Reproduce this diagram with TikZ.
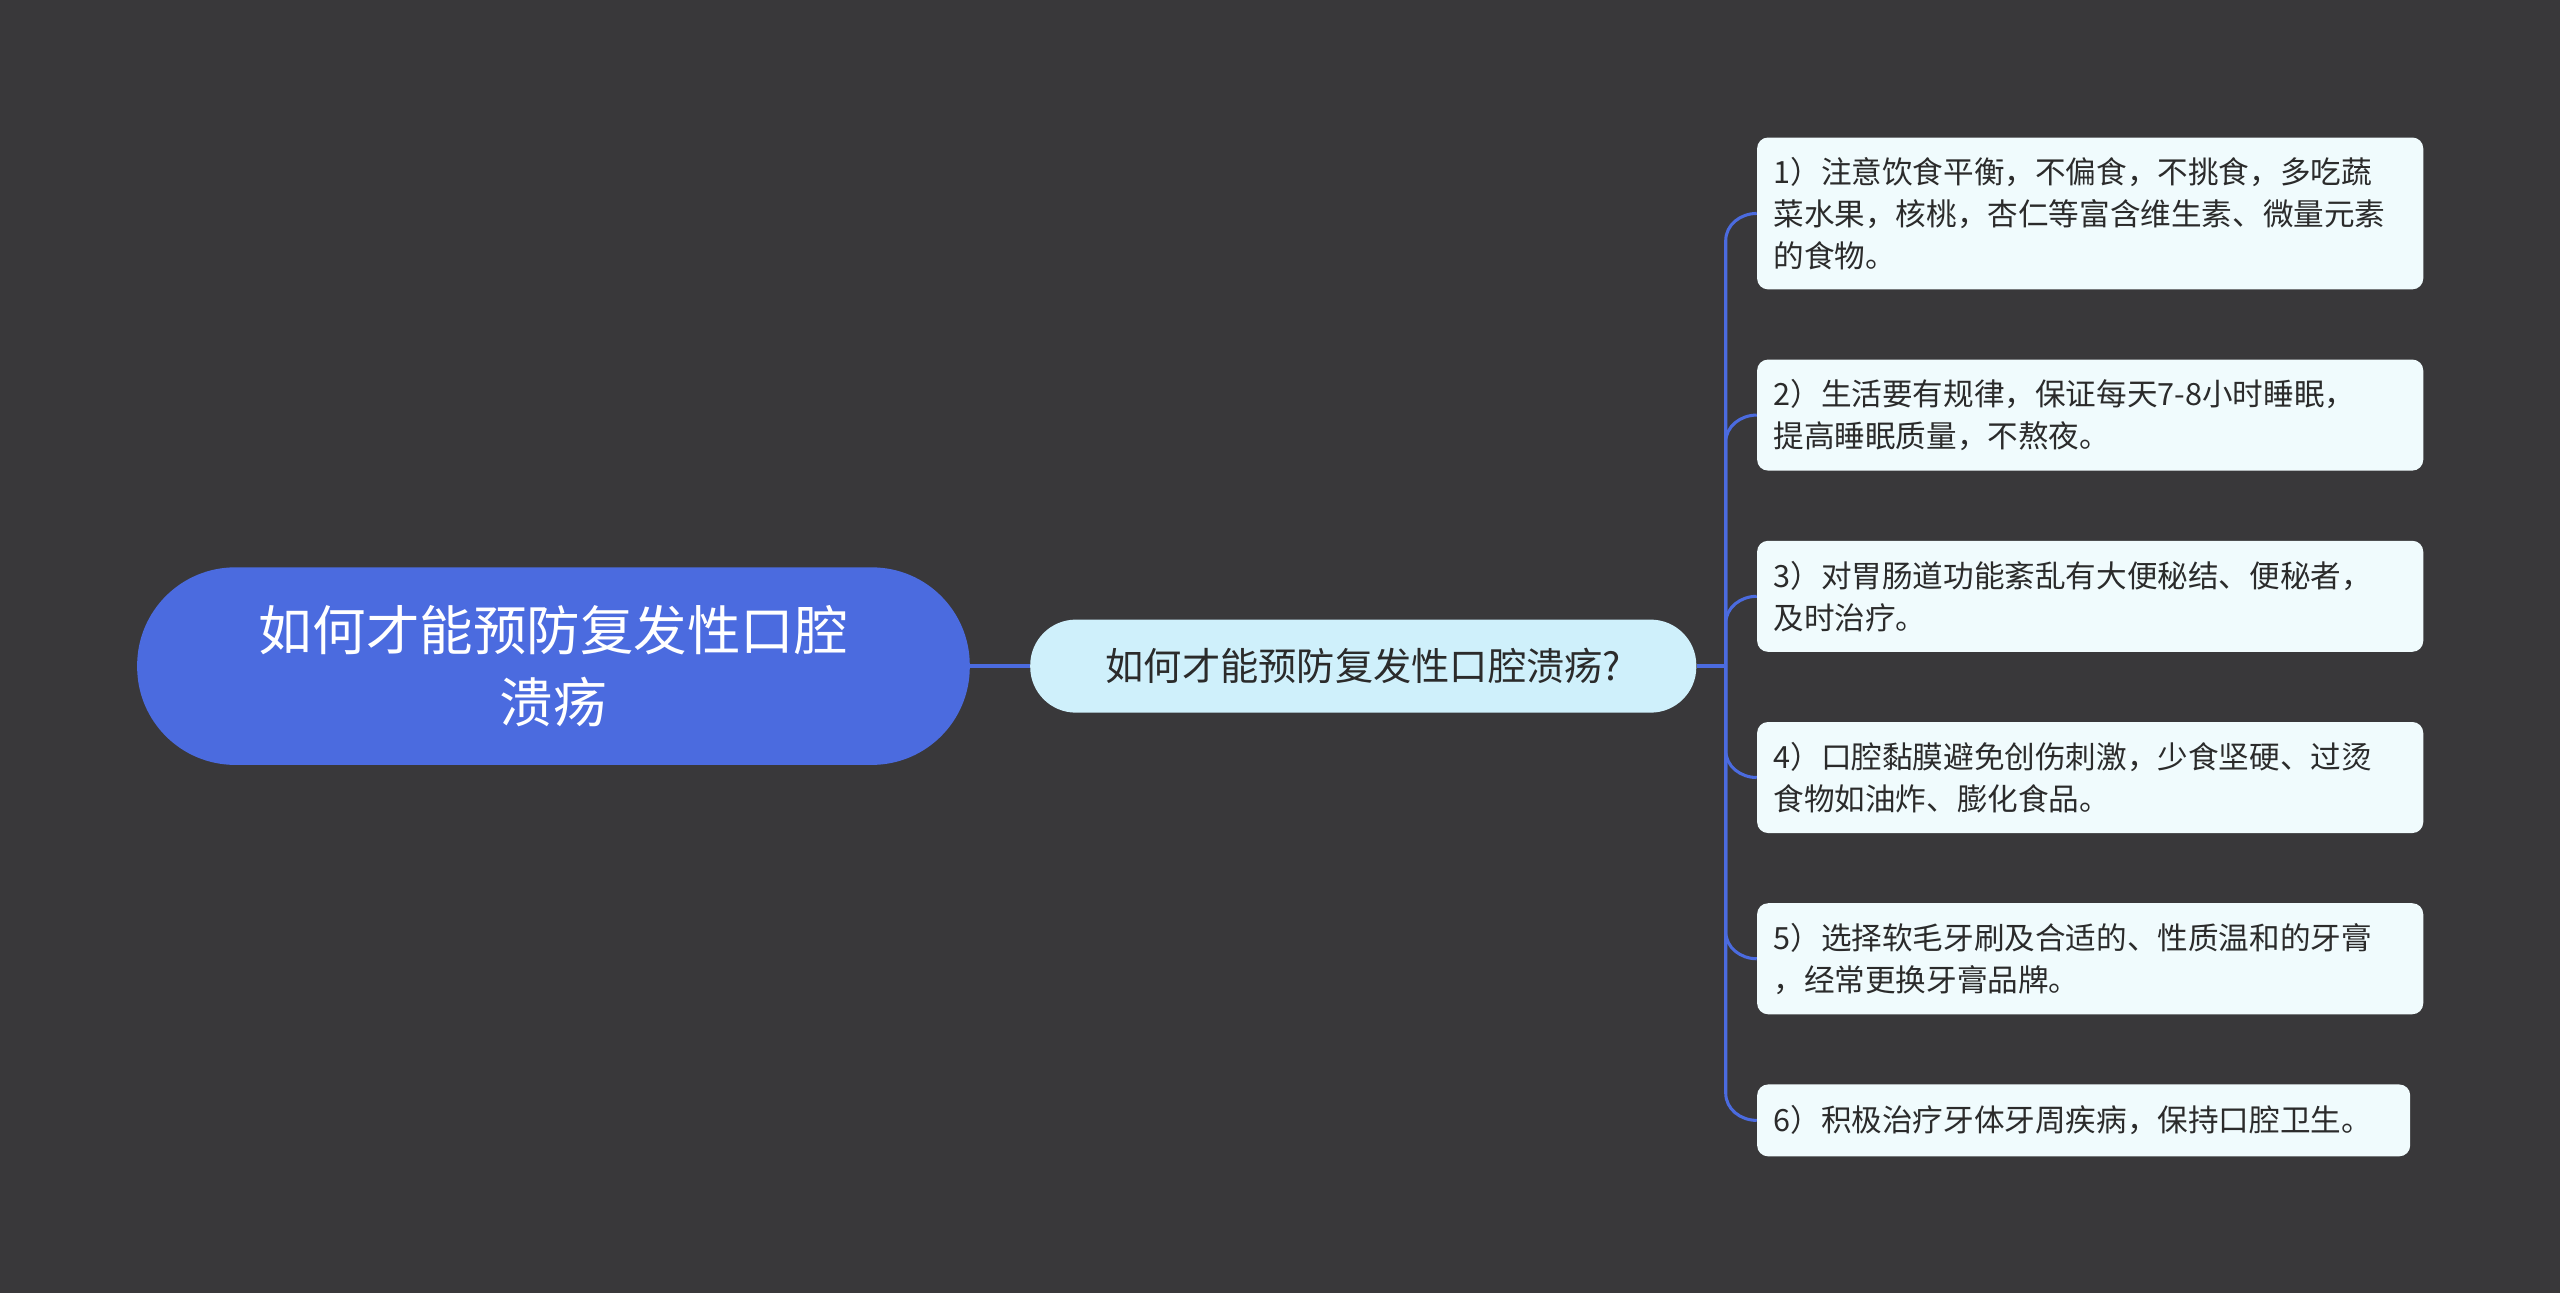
\documentclass[tikz,border=0pt]{standalone}
\usepackage{fontspec}
\setmainfont{Noto Sans CJK SC}
\begin{document}
\begin{tikzpicture}[x=0.03cm,y=-0.03cm,
  rootbox/.style={draw=none,fill=rootc,rounded corners=60*0.03cm,minimum width=510*0.03cm,minimum height=121*0.03cm,align=center,text=white,font=\fontsize{28}{38}\selectfont},
  midbox/.style={fill=midc,rounded corners=28*0.03cm,minimum width=408*0.03cm,minimum height=57*0.03cm,text=textc,font=\fontsize{20}{24}\selectfont},
  leafbox/.style={fill=leafc,rounded corners=0.2cm,anchor=north west,text width=388*0.03cm,inner xsep=10*0.03cm,align=left,text=textc,font=\fontsize{16}{22}\selectfont},
  conn/.style={draw=rootc,line width=1.8pt}]
\definecolor{bg}{HTML}{39383A}
\definecolor{rootc}{HTML}{4B6BDF}
\definecolor{midc}{HTML}{CFF0FB}
\definecolor{leafc}{HTML}{F0FBFD}
\definecolor{textc}{HTML}{2B2B2B}
\fill[bg] (0,0) rectangle (1568,792);
\node[rootbox] (root) at (339,408) {如何才能预防复发性口腔\\溃疡};
\node[midbox] (mid) at (835,408) {如何才能预防复发性口腔溃疡?};
\draw[conn] (root.east) -- (mid.west);
\coordinate (br) at (1057,408);
\draw[conn] (mid.east) -- (br);
\node[leafbox,minimum height=93*0.03cm] (l1) at (1076,84) {1）注意饮食平衡，不偏食，不挑食，多吃蔬\\菜水果，核桃，杏仁等富含维生素、微量元素\\的食物。};
\node[leafbox,minimum height=68*0.03cm] (l2) at (1076,220) {2）生活要有规律，保证每天7-8小时睡眠，\\提高睡眠质量，不熬夜。};
\node[leafbox,minimum height=68*0.03cm] (l3) at (1076,331) {3）对胃肠道功能紊乱有大便秘结、便秘者，\\及时治疗。};
\node[leafbox,minimum height=68*0.03cm] (l4) at (1076,442) {4）口腔黏膜避免创伤刺激，少食坚硬、过烫\\食物如油炸、膨化食品。};
\node[leafbox,minimum height=68*0.03cm] (l5) at (1076,553) {5）选择软毛牙刷及合适的、性质温和的牙膏\\，经常更换牙膏品牌。};
\node[leafbox,minimum height=44*0.03cm,text width=380*0.03cm] (l6) at (1076,664) {6）积极治疗牙体牙周疾病，保持口腔卫生。};
\foreach \n in {l1,l2,l3}{
  \draw[conn,line width=1.6pt] (br) -- ([xshift=-19*0.03cm,yshift=-0.5cm]\n.west) to[out=90,in=180] (\n.west);}
\foreach \n in {l4,l5,l6}{
  \draw[conn,line width=1.6pt] (br) -- ([xshift=-19*0.03cm,yshift=0.5cm]\n.west) to[out=-90,in=180] (\n.west);}
\end{tikzpicture}
\end{document}
